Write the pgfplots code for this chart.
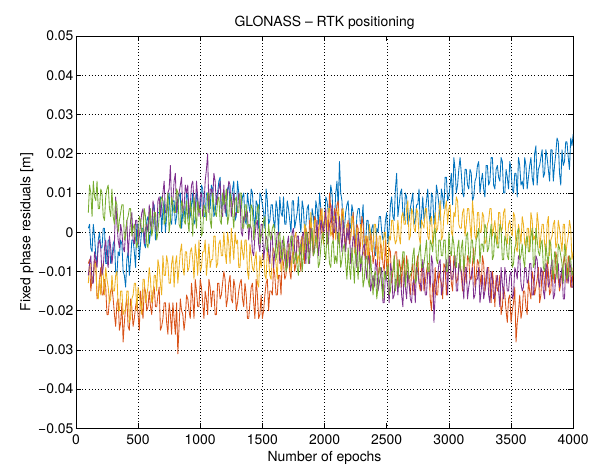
\documentclass[border=0pt]{standalone}
\usepackage{pgfplots}
\pgfplotsset{compat=1.18}
\usepackage{pgfplotstable}
\usepackage{fontspec}
\setmainfont{TeX Gyre Heros}

\definecolor{mblue}{rgb}{0,0.447,0.741}
\definecolor{morange}{rgb}{0.85,0.325,0.098}
\definecolor{myellow}{rgb}{0.929,0.694,0.125}
\definecolor{mpurple}{rgb}{0.494,0.184,0.556}
\definecolor{mgreen}{rgb}{0.466,0.674,0.188}

% residuals in mm, one column per satellite
\pgfplotstableread{
x b o y p g
100 1 -8 -13 -11 5
110 2 -7 -8 -8 12
120 -4 -15 -8 -6 10
130 -5 -12 -13 -13 4
140 2 -11 -12 -13 13
150 -1 -7 -8 -5 9
160 -6 -8 -8 -7 8
170 -8 -17 -16 -9 13
180 -2 -16 -17 -3 6
190 0 -12 -12 -2 6
200 -4 -9 -16 -4 11
210 -4 -16 -8 -11 10
220 1 -16 -11 -9 4
230 1 -12 -16 -4 3
240 -8 -14 -9 -2 9
250 -8 -21 -12 -7 11
260 -2 -21 -14 -9 12
270 -2 -17 -18 -1 6
280 -8 -15 -17 -4 4
290 -7 -14 -11 -8 11
300 -3 -17 -15 -5 4
310 -2 -21 -15 -3 2
320 -10 -24 -11 9 8
330 -11 -18 -10 2 7
340 -5 -17 -20 -2 0
350 -6 -25 -20 -4 3
360 -2 -23 -15 2 5
370 -3 -18 -15 0 7
380 -10 -28 -21 -4 7
390 -11 -23 -20 -5 -2
400 -14 -19 -20 0 -1
410 -7 -17 -15 3 3
420 -5 -24 -15 -6 4
430 -11 -25 -23 -1 6
440 -7 -17 -22 3 6
450 -2 -19 -17 5 -1
460 -2 -24 -16 -2 1
470 -5 -22 -13 -3 2
480 -9 -19 -13 3 -2
490 2 -17 -20 3 -4
500 2 -21 -14 -3 -2
510 -7 -25 -16 -1 4
520 -3 -15 -18 2 3
530 1 -19 -21 5 0
540 1 -22 -12 6 0
550 -3 -14 -12 -3 6
560 -4 -15 -18 1 4
570 3 -20 -16 2 -3
580 4 -19 -14 0 -4
590 -3 -15 -9 7 3
600 0 -19 -12 2 6
610 2 -21 -18 0 -1
620 6 -15 -17 8 1
630 7 -14 -11 6 5
640 -2 -19 -11 1 5
650 0 -19 -15 0 -2
660 5 -16 -7 8 0
670 5 -14 -9 9 4
680 9 -25 -13 4 8
690 0 -24 -16 7 9
700 6 -22 -6 10 8
710 8 -18 -11 13 2
720 0 -18 -11 5 3
730 4 -23 -6 5 6
740 8 -26 -8 10 10
750 10 -18 -13 11 0
760 3 -21 -13 17 3
770 2 -26 -8 7 9
780 8 -18 -6 8 7
790 8 -22 -14 13 5
800 2 -26 -8 15 5
810 4 -18 -6 5 11
820 7 -31 -13 9 10
830 9 -24 -9 10 2
840 10 -17 -5 12 1
850 1 -20 -3 14 8
860 5 -21 -9 5 7
870 6 -25 -11 6 3
880 3 -22 -5 12 2
890 10 -16 -5 10 8
900 9 -17 -10 12 3
910 3 -20 -9 4 0
920 4 -22 -5 7 8
930 7 -13 -4 12 5
940 10 -17 -7 13 -1
950 2 -22 -12 8 9
960 3 -12 -3 5 5
970 10 -15 -6 13 1
980 8 -19 -11 9 8
990 6 -19 -2 4 5
1000 6 -12 -10 9 6
1010 12 -14 -9 10 -1
1020 11 -18 -5 4 0
1030 4 -22 -5 7 7
1040 4 -15 -2 13 6
1050 10 -17 -11 16 3
1060 10 -21 -7 20 10
1070 6 -12 -3 5 10
1080 6 -14 -9 11 3
1090 12 -19 -7 11 1
1100 11 -15 -7 8 10
1110 4 -15 -1 15 7
1120 5 -21 -1 13 5
1130 9 -21 -9 7 4
1140 10 -13 -8 9 8
1150 13 -13 -3 11 9
1160 14 -17 -2 13 3
1170 6 -16 -6 5 2
1180 7 -13 -6 4 10
1190 10 -10 0 12 7
1200 6 -12 -5 5 8
1210 4 -19 -8 8 11
1220 11 -17 0 10 2
1230 12 -13 -3 13 4
1240 8 -11 -8 12 10
1250 8 -17 1 4 8
1260 11 -18 -3 7 5
1270 13 -12 -7 10 1
1280 3 -14 0 4 8
1290 4 -20 -3 5 9
1300 13 -18 -2 5 5
1310 10 -15 -9 10 5
1320 7 -13 -9 9 10
1330 6 -12 -2 0 10
1340 9 -17 -5 -1 1
1350 10 -19 -7 4 1
1360 3 -13 -2 3 7
1370 2 -16 -2 6 7
1380 10 -22 -10 5 1
1390 7 -22 -12 -2 2
1400 5 -18 -3 2 1
1410 11 -14 -6 1 7
1420 10 -13 -9 -5 6
1430 4 -18 -10 -6 -2
1440 1 -22 -7 -1 2
1450 8 -12 -5 2 3
1460 7 -16 -13 3 6
1470 1 -22 -14 -3 7
1480 10 -21 -6 -5 -3
1490 9 -16 -9 2 -1
1500 7 -22 -6 2 0
1510 5 -20 -5 -7 3
1520 1 -16 -11 -4 4
1530 11 -13 -12 -1 -4
1540 8 -12 -4 -2 -5
1550 2 -20 -7 -5 2
1560 3 -15 -11 -8 -1
1570 7 -15 -12 0 -2
1580 7 -16 -6 -1 1
1590 3 -9 -4 -9 2
1600 1 -11 -6 -5 0
1610 8 -16 -8 -4 -7
1620 6 -16 -12 0 -5
1630 0 -11 -2 0 -1
1640 9 -11 -3 -8 0
1650 5 -16 -10 -7 -6
1660 4 -6 -8 -2 -7
1670 9 -8 -4 -3 -1
1680 2 -12 -4 -7 -4
1690 2 -11 -8 -9 -10
1700 8 -5 -9 -3 -9
1710 6 -5 -3 -1 -5
1720 3 -10 -3 -9 -4
1730 0 -12 -10 -5 -1
1740 8 -6 -6 0 -1
1750 8 -5 -4 1 -8
1760 1 -10 -1 -5 -7
1770 3 -8 0 -7 -5
1780 5 -2 -8 -1 -9
1790 9 -2 -6 -1 -11
1800 3 -7 -7 -6 -4
1810 0 -10 -2 -5 -3
1820 8 -1 -1 -1 -10
1830 6 -4 -7 0 -6
1840 0 -8 2 -4 -4
1850 2 1 1 -8 0
1860 6 -1 -2 0 0
1870 7 -5 -2 -3 -8
1880 1 3 -3 -8 -6
1890 -1 0 5 1 -2
1900 6 -2 -2 0 1
1910 4 -6 -4 -6 -6
1920 0 4 3 -4 -5
1930 8 3 3 -1 -1
1940 6 -4 -4 3 -2
1950 2 0 -1 -6 -9
1960 10 3 2 -3 -8
1970 6 6 4 3 -4
1980 4 -1 6 2 -1
1990 1 -2 -3 0 0
2000 3 3 5 3 -5
2010 9 4 2 6 -7
2020 8 -3 0 -3 0
2030 5 0 6 -3 -3
2040 6 10 6 2 -8
2050 12 6 -1 3 -9
2060 10 1 0 7 -3
2070 3 -2 4 0 -2
2080 3 6 4 0 -8
2090 10 4 -2 5 -6
2100 13 7 4 0 -8
2110 6 8 6 -3 0
2120 18 1 -3 4 -3
2130 10 0 1 0 -9
2140 8 6 5 -5 -7
2150 1 3 6 3 -4
2160 1 -2 -1 -1 -3
2170 5 -4 -3 -5 -8
2180 7 1 2 1 -12
2190 8 3 2 -2 -4
2200 2 -3 -1 2 -9
2210 1 -1 -2 -8 -12
2220 7 2 4 -5 -4
2230 5 5 3 -1 -8
2240 -2 -1 -5 -2 -13
2250 -2 -4 -6 -6 -4
2260 4 2 1 -9 -7
2270 6 1 -1 0 -12
2280 6 -6 -5 -3 -5
2290 1 -3 2 -10 -8
2300 3 4 0 -7 -6
2310 7 2 -5 -4 -14
2320 -4 -3 -6 -3 -12
2330 -3 -7 -1 -9 -7
2340 3 -1 -1 -12 -6
2350 3 -3 -8 -6 -12
2360 -2 -8 2 -7 -14
2370 -2 0 0 -15 -6
2380 1 -2 -5 -13 -11
2390 2 -8 -4 -11 -16
2400 -5 -6 2 -14 -11
2410 -6 -4 2 -7 -10
2420 1 -1 -4 -9 -17
2430 0 -11 -7 -15 -14
2440 4 -10 -1 -13 -9
2450 4 -3 -1 -11 -9
2460 0 -4 -7 -9 -14
2470 -2 -8 -5 -18 -17
2480 -1 -10 0 -18 -10
2490 3 -2 0 -10 -12
2500 5 -9 -7 -12 -10
2510 -3 -11 -8 -14 -8
2520 1 -4 -1 -18 -16
2530 7 -5 -2 -8 -15
2540 9 -13 3 -10 -10
2550 4 -10 3 -17 -10
2560 3 -7 -1 -16 -6
2570 11 -5 -3 -12 -15
2580 15 -5 -2 -12 -12
2590 4 -14 3 -16 -7
2600 7 -7 -1 -11 -14
2610 10 -9 -3 -11 -11
2620 11 -14 4 -16 -9
2630 5 -6 5 -19 -5
2640 3 -9 2 -10 -5
2650 10 -13 2 -14 -14
2660 9 -6 6 -17 -10
2670 2 -9 8 -10 -7
2680 3 -13 -2 -13 -12
2690 6 -16 -1 -17 -11
2700 8 -10 6 -18 -10
2710 10 -8 5 -13 -6
2720 2 -16 1 -12 -4
2730 3 -12 0 -18 -13
2740 7 -8 6 -9 -12
2750 7 -6 5 -10 -7
2760 11 -13 -1 -13 -5
2770 1 -15 -3 -13 -3
2780 4 -9 3 -15 -9
2790 9 -9 2 -7 -9
2800 3 -15 1 -10 -8
2810 5 -13 6 -16 -5
2820 8 -10 6 -16 -2
2830 11 -8 -1 -10 -10
2840 5 -8 -2 -10 -10
2850 2 -17 3 -14 -2
2860 10 -20 4 -6 -3
2870 9 -13 -3 -8 -5
2880 2 -16 -1 -23 0
2890 5 -9 5 -16 1
2900 12 -16 0 -13 -7
2910 10 -16 1 -11 -8
2920 7 -10 5 -8 -2
2930 3 -12 8 -7 -2
2940 11 -13 -2 -16 -6
2950 9 -17 -1 -14 -6
2960 6 -8 4 -10 -2
2970 14 -9 6 -10 -2
2980 14 -16 8 -7 -10
2990 8 -12 2 -16 -10
3000 9 -8 6 -6 0
3010 12 -6 7 -8 -5
3020 15 -13 0 -12 -6
3030 7 -15 -1 -12 -1
3040 19 -6 5 -9 -3
3050 16 -9 4 -6 -8
3060 10 -13 9 -15 -9
3070 12 -12 8 -15 -4
3080 16 -9 2 -8 -2
3090 19 -7 1 -9 -10
3100 15 -11 1 -10 -4
3110 10 -15 5 -13 -2
3120 9 -6 6 -17 -10
3130 16 -10 -1 -9 -6
3140 16 -13 2 -9 -1
3150 12 -6 6 -17 0
3160 11 -7 6 -14 -6
3170 16 -12 2 -12 -8
3180 15 -12 -2 -11 -2
3190 8 -8 8 -9 -2
3200 9 -4 4 -17 -8
3210 13 -14 -1 -16 -6
3220 14 -11 -2 -12 -2
3230 17 -7 5 -12 -1
3240 18 -8 5 -9 1
3250 10 -11 0 -18 -8
3260 13 -14 0 -15 -3
3270 15 -6 5 -11 -3
3280 11 -8 4 -17 -5
3290 9 -15 -3 -15 2
3300 17 -13 -2 -11 1
3310 17 -9 2 -9 -5
3320 12 -9 3 -16 -4
3330 13 -14 6 -18 -1
3340 19 -18 6 -10 2
3350 19 -10 -1 -12 -7
3360 12 -13 1 -17 -6
3370 11 -19 3 -16 0
3380 16 -11 -1 -13 -2
3390 17 -15 -3 -11 -4
3400 14 -14 5 -15 -4
3410 13 -11 5 -19 2
3420 19 -21 0 -9 1
3430 18 -19 1 -13 -7
3440 10 -14 5 -17 -7
3450 10 -16 6 -9 -1
3460 16 -20 -2 -11 -2
3470 14 -23 -3 -15 -6
3480 11 -17 2 -15 -7
3490 18 -16 3 -11 -1
3500 16 -23 0 -10 -2
3510 11 -20 -1 -17 -9
3520 10 -18 5 -16 -8
3530 15 -14 4 -9 -4
3540 15 -28 -4 -10 -3
3550 9 -23 -5 -12 0
3560 19 -20 2 -6 1
3570 17 -16 0 -6 -7
3580 12 -22 -3 -13 -6
3590 13 -20 4 -15 -3
3600 11 -15 2 -14 -7
3610 19 -15 -3 -9 -9
3620 17 -19 -4 -9 -2
3630 11 -21 1 -13 -1
3640 14 -12 1 -12 -5
3650 17 -15 -5 -8 -5
3660 19 -17 5 -8 -1
3670 14 -10 3 -16 1
3680 12 -12 -2 -16 -9
3690 20 -16 -1 -11 -8
3700 22 -14 -3 -6 1
3710 12 -12 5 -7 -2
3720 16 -9 2 -12 -5
3730 17 -18 -4 -14 -6
3740 19 -16 -1 -9 -3
3750 21 -10 2 -10 -2
3760 14 -10 2 -15 -9
3770 15 -13 -3 -17 -10
3780 21 -15 -6 -8 -3
3790 19 -7 2 -9 -6
3800 16 -10 4 -14 -8
3810 13 -16 -6 -13 -2
3820 21 -15 -2 -9 -3
3830 21 -9 -1 -7 -9
3840 13 -10 2 -17 -12
3850 17 -13 3 -16 -5
3860 20 -5 -4 -11 -6
3870 24 -7 -3 -10 -12
3880 23 -12 3 -8 -3
3890 15 -15 1 -14 -4
3900 12 -13 -2 -11 -6
3910 21 -10 -5 -9 -8
3920 17 -8 2 -17 -13
3930 18 -6 2 -17 -3
3940 23 -10 -6 -8 -5
3950 23 -13 -3 -11 -12
3960 19 -6 -1 -13 -11
3970 16 -8 3 -7 -6
3980 24 -14 1 -9 -7
3990 22 -14 -7 -14 -11
4000 25 -9 -5 -14 -10
}\res

\begin{document}
\begin{tikzpicture}
\begin{axis}[
    scale only axis,
    width=498bp, height=393bp,
    xmin=0, xmax=4000,
    ymin=-0.05, ymax=0.05,
    xtick={0,500,...,4000},
    ytick={-0.05,-0.04,-0.03,-0.02,-0.01,0,0.01,0.02,0.03,0.04,0.05},
    yticklabels={−0.05,−0.04,−0.03,−0.02,−0.01,0,0.01,0.02,0.03,0.04,0.05},
    scaled y ticks=false,
    /pgf/number format/1000 sep={},
    /pgf/number format/assume math mode=true,
    tick align=inside,
    major tick length=5bp,
    xtick pos=both, ytick pos=both,
    grid=major,
    major grid style={black, line width=0.4pt, dash pattern=on 0.6pt off 2.6pt},
    axis line style={black, line width=0.6pt},
    tick style={black, line width=0.5pt},
    ticklabel style={font=\fontsize{14}{16}\selectfont},
    yticklabel style={xshift=1bp},
    xticklabel style={yshift=-3bp},
    label style={font=\fontsize{14}{16}\selectfont},
    xlabel style={yshift=1bp},
    ylabel style={yshift=-2bp},
    title style={font=\fontsize{14}{16}\selectfont, yshift=-3bp},
    title={GLONASS – RTK positioning},
    xlabel={Number of epochs},
    ylabel={Fixed phase residuals [m]},
    every axis plot/.append style={line width=0.85pt, line join=round},
]
\addplot[mblue] table[x=x, y expr=\thisrow{b}/1000] {\res};
\addplot[morange] table[x=x, y expr=\thisrow{o}/1000] {\res};
\addplot[myellow] table[x=x, y expr=\thisrow{y}/1000] {\res};
\addplot[mpurple] table[x=x, y expr=\thisrow{p}/1000] {\res};
\addplot[mgreen] table[x=x, y expr=\thisrow{g}/1000] {\res};
\end{axis}
\path ([xshift=-76bp,yshift=-41bp]current axis.south west) rectangle ([xshift=18bp,yshift=36bp]current axis.north east);
\end{tikzpicture}
\end{document}
